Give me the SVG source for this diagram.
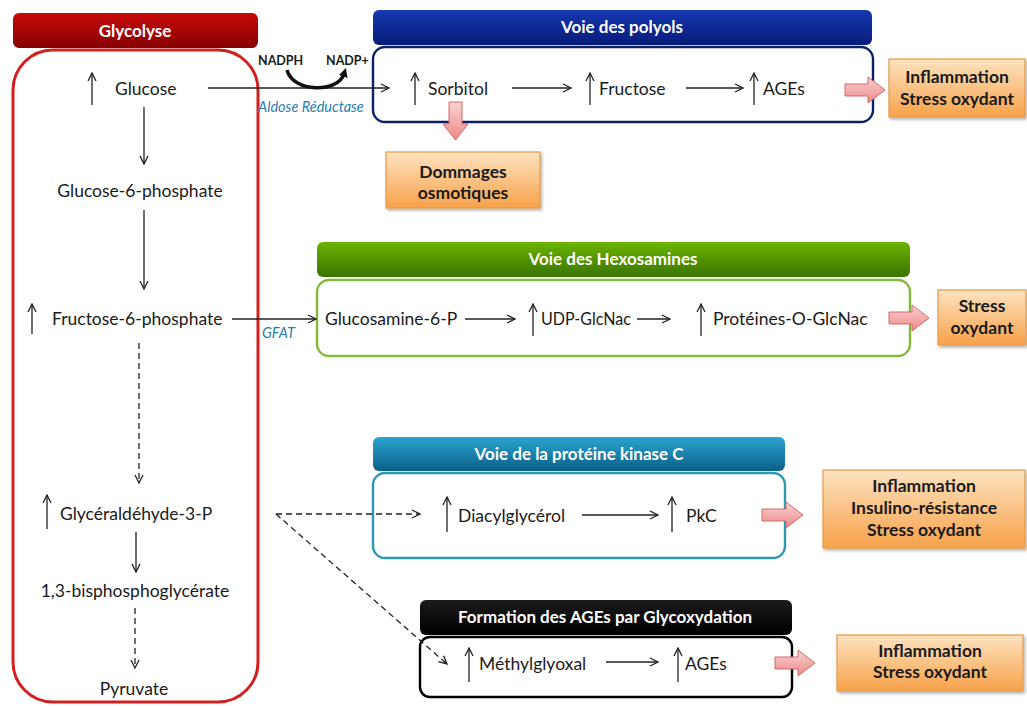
<svg xmlns="http://www.w3.org/2000/svg" width="1027" height="706" viewBox="0 0 1027 706">
<defs>
<style>
.t{font-family:Lato,"Open Sans","Liberation Sans",sans-serif;font-size:17.5px;fill:#1a1a1a}
.c{text-anchor:middle}
.h{font-family:Lato,"Open Sans","Liberation Sans",sans-serif;font-size:17px;font-weight:bold;fill:#fff;text-anchor:middle}
.o{font-family:Lato,"Open Sans","Liberation Sans",sans-serif;font-size:17.5px;font-weight:bold;fill:#1a1a1a;text-anchor:middle}
.e{font-family:Lato,"Open Sans","Liberation Sans",sans-serif;font-size:14.5px;font-style:italic;fill:#2a7fb0}
.s{font-family:Lato,"Open Sans","Liberation Sans",sans-serif;font-size:12.5px;font-weight:bold;fill:#1a1a1a}
.a{stroke:#222;stroke-width:1.3;fill:none;marker-end:url(#ar)}
.d{stroke:#222;stroke-width:1.3;fill:none;stroke-dasharray:6,4;marker-end:url(#ar)}
.ob{fill:url(#og);stroke:#e39a4a;stroke-width:1.2;filter:url(#sh)}
.pk{fill:url(#pg);stroke:#cf6a6a;stroke-width:1}
</style>
<marker id="ar" viewBox="0 0 10 10" refX="9" refY="5" markerWidth="10" markerHeight="10" markerUnits="userSpaceOnUse" orient="auto">
<path d="M1,1 L9,5 L1,9" fill="none" stroke="#222" stroke-width="1.3"/>
</marker>
<marker id="ah" viewBox="0 0 10 10" refX="3" refY="5" markerWidth="9" markerHeight="9" markerUnits="userSpaceOnUse" orient="auto">
<path d="M0,0 L10,5 L0,10 Z" fill="#111"/>
</marker>
<linearGradient id="gr" x1="0" y1="0" x2="0" y2="1"><stop offset="0" stop-color="#c80a0a"/><stop offset="1" stop-color="#860000"/></linearGradient>
<linearGradient id="gb" x1="0" y1="0" x2="0" y2="1"><stop offset="0" stop-color="#1638b0"/><stop offset="1" stop-color="#061c78"/></linearGradient>
<linearGradient id="gg" x1="0" y1="0" x2="0" y2="1"><stop offset="0" stop-color="#6cb400"/><stop offset="1" stop-color="#3a7400"/></linearGradient>
<linearGradient id="gt" x1="0" y1="0" x2="0" y2="1"><stop offset="0" stop-color="#2ca4d2"/><stop offset="1" stop-color="#0b5f86"/></linearGradient>
<linearGradient id="gk" x1="0" y1="0" x2="0" y2="1"><stop offset="0" stop-color="#1a1a1a"/><stop offset="1" stop-color="#000"/></linearGradient>
<linearGradient id="og" x1="0" y1="0" x2="0" y2="1"><stop offset="0" stop-color="#fde3c0"/><stop offset="1" stop-color="#f7a24a"/></linearGradient>
<linearGradient id="pg" x1="0" y1="0" x2="0" y2="1"><stop offset="0" stop-color="#fbd0d0"/><stop offset="1" stop-color="#ec8a8a"/></linearGradient>
<filter id="sh" x="-10%" y="-10%" width="130%" height="140%"><feDropShadow dx="1.5" dy="2" stdDeviation="1.5" flood-color="#000" flood-opacity="0.3"/></filter>
</defs>
<rect width="1027" height="706" fill="#fff"/>

<g id="glycolyse">
<rect x="13" y="50" width="245" height="652" rx="40" fill="none" stroke="#d22020" stroke-width="3"/>
<rect x="13" y="13" width="245" height="35" rx="6" fill="url(#gr)"/>
<text class="h" x="135" y="37">Glycolyse</text>
</g>
<g id="glucose"><text class="t" x="115" y="95">Glucose</text></g>
<g id="g6p"><text class="t c" x="140" y="197">Glucose-6-phosphate</text></g>
<g id="f6p"><text class="t" x="52" y="325">Fructose-6-phosphate</text></g>
<g id="g3p"><text class="t" x="60" y="520">Glycéraldéhyde-3-P</text></g>
<g id="bpg"><text class="t c" x="135" y="597">1,3-bisphosphoglycérate</text></g>
<g id="pyruvate"><text class="t c" x="134" y="695">Pyruvate</text></g>

<g id="polyols">
<rect x="373" y="47" width="500" height="75" rx="12" fill="#fff" stroke="#0a1f66" stroke-width="2.4"/>
<rect x="373" y="10" width="499" height="35" rx="6" fill="url(#gb)"/>
<text class="h" x="622" y="33">Voie des polyols</text>
<text class="t" x="428" y="95">Sorbitol</text>
<text class="t" x="599" y="95">Fructose</text>
<text class="t" x="763" y="95">AGEs</text>
</g>
<g id="out-polyols">
<rect class="ob" x="889" y="59" width="136" height="58"/>
<text class="o" x="957" y="83">Inflammation</text>
<text class="o" x="957" y="105">Stress oxydant</text>
</g>
<g id="dommages">
<rect class="ob" x="386" y="152" width="154" height="56"/>
<text class="o" x="463" y="178">Dommages</text>
<text class="o" x="463" y="199">osmotiques</text>
</g>

<g id="hexosamines">
<rect x="317" y="280" width="593" height="76" rx="12" fill="#fff" stroke="#86b83a" stroke-width="2.4"/>
<rect x="317" y="242" width="593" height="35" rx="6" fill="url(#gg)"/>
<text class="h" x="613" y="265">Voie des Hexosamines</text>
<text class="t" x="325" y="325">Glucosamine-6-P</text>
<text class="t" x="541" y="325" textLength="90" lengthAdjust="spacingAndGlyphs">UDP-GlcNac</text>
<text class="t" x="713" y="325">Protéines-O-GlcNac</text>
</g>
<g id="out-hexo">
<rect class="ob" x="938" y="290" width="88" height="55"/>
<text class="o" x="982" y="312">Stress</text>
<text class="o" x="982" y="334">oxydant</text>
</g>

<g id="pkc">
<rect x="373" y="473" width="412" height="85" rx="12" fill="#fff" stroke="#2f98b0" stroke-width="2.4"/>
<rect x="373" y="437" width="412" height="34" rx="6" fill="url(#gt)"/>
<text class="h" x="579" y="460">Voie de la protéine kinase C</text>
<text class="t" x="458" y="522">Diacylglycérol</text>
<text class="t" x="686" y="522">PkC</text>
</g>
<g id="out-pkc">
<rect class="ob" x="823" y="470" width="202" height="78"/>
<text class="o" x="924" y="492">Inflammation</text>
<text class="o" x="924" y="514">Insulino-résistance</text>
<text class="o" x="924" y="536">Stress oxydant</text>
</g>

<g id="ages">
<rect x="420" y="637" width="372" height="60" rx="10" fill="#fff" stroke="#000" stroke-width="2.4"/>
<rect x="420" y="600" width="372" height="35" rx="6" fill="url(#gk)"/>
<text class="h" x="605" y="623">Formation des AGEs par Glycoxydation</text>
<text class="t" x="479" y="670">Méthylglyoxal</text>
<text class="t" x="685" y="670">AGEs</text>
</g>
<g id="out-ages">
<rect class="ob" x="837" y="635" width="186" height="56"/>
<text class="o" x="930" y="657">Inflammation</text>
<text class="o" x="930" y="678">Stress oxydant</text>
</g>

<g id="connectors">
<!-- up arrows -->
<line class="a" x1="92" y1="105" x2="92" y2="73"/>
<line class="a" x1="32" y1="334" x2="32" y2="304"/>
<line class="a" x1="47" y1="529" x2="47" y2="495"/>
<line class="a" x1="415" y1="105" x2="415" y2="73"/>
<line class="a" x1="590" y1="105" x2="590" y2="73"/>
<line class="a" x1="754" y1="105" x2="754" y2="73"/>
<line class="a" x1="533" y1="336" x2="533" y2="304"/>
<line class="a" x1="701" y1="336" x2="701" y2="304"/>
<line class="a" x1="447" y1="532" x2="447" y2="497"/>
<line class="a" x1="672" y1="532" x2="672" y2="497"/>
<line class="a" x1="469" y1="682" x2="469" y2="648"/>
<line class="a" x1="678" y1="682" x2="678" y2="648"/>
<!-- glycolysis -->
<line class="a" x1="144" y1="107" x2="144" y2="164"/>
<line class="a" x1="144" y1="210" x2="144" y2="289"/>
<line class="d" x1="139" y1="343" x2="139" y2="483"/>
<line class="a" x1="136" y1="532" x2="136" y2="572"/>
<line class="d" x1="135" y1="608" x2="135" y2="668"/>
<!-- polyols -->
<line class="a" x1="208" y1="88" x2="389" y2="88"/>
<path d="M287,70 C293,93 338,93 344,74" fill="none" stroke="#111" stroke-width="3.5" marker-end="url(#ah)"/>
<text class="s" x="258" y="65">NADPH</text>
<text class="s" x="326" y="65">NADP+</text>
<text class="e" x="258" y="112">Aldose Réductase</text>
<line class="a" x1="512" y1="88" x2="571" y2="88"/>
<line class="a" x1="686" y1="88" x2="743" y2="88"/>
<!-- hexosamines -->
<line class="a" x1="232" y1="319" x2="316" y2="319"/>
<text class="e" x="262" y="338">GFAT</text>
<line class="a" x1="465" y1="319" x2="515" y2="319"/>
<line class="a" x1="637" y1="319" x2="670" y2="319"/>
<!-- pkc -->
<line class="d" x1="276" y1="514" x2="420" y2="514"/>
<line class="a" x1="582" y1="515" x2="658" y2="515"/>
<!-- ages -->
<line class="d" x1="276" y1="514" x2="447" y2="664"/>
<line class="a" x1="606" y1="662" x2="658" y2="662"/>
<!-- pink block arrows -->
<path class="pk" d="M845,84 H868 V77 L885,90 L868,103 V96 H845 Z"/>
<path class="pk" d="M449,102 H462 V124 H468 L455.5,140 L443,124 H449 Z"/>
<path class="pk" d="M889,312 H912 V305 L929,318 L912,331 V324 H889 Z"/>
<path class="pk" d="M762,509 H786 V502 L803,515 L786,528 V521 H762 Z"/>
<path class="pk" d="M775,657 H798 V650 L815,663 L798,676 V669 H775 Z"/>
</g>
</svg>
